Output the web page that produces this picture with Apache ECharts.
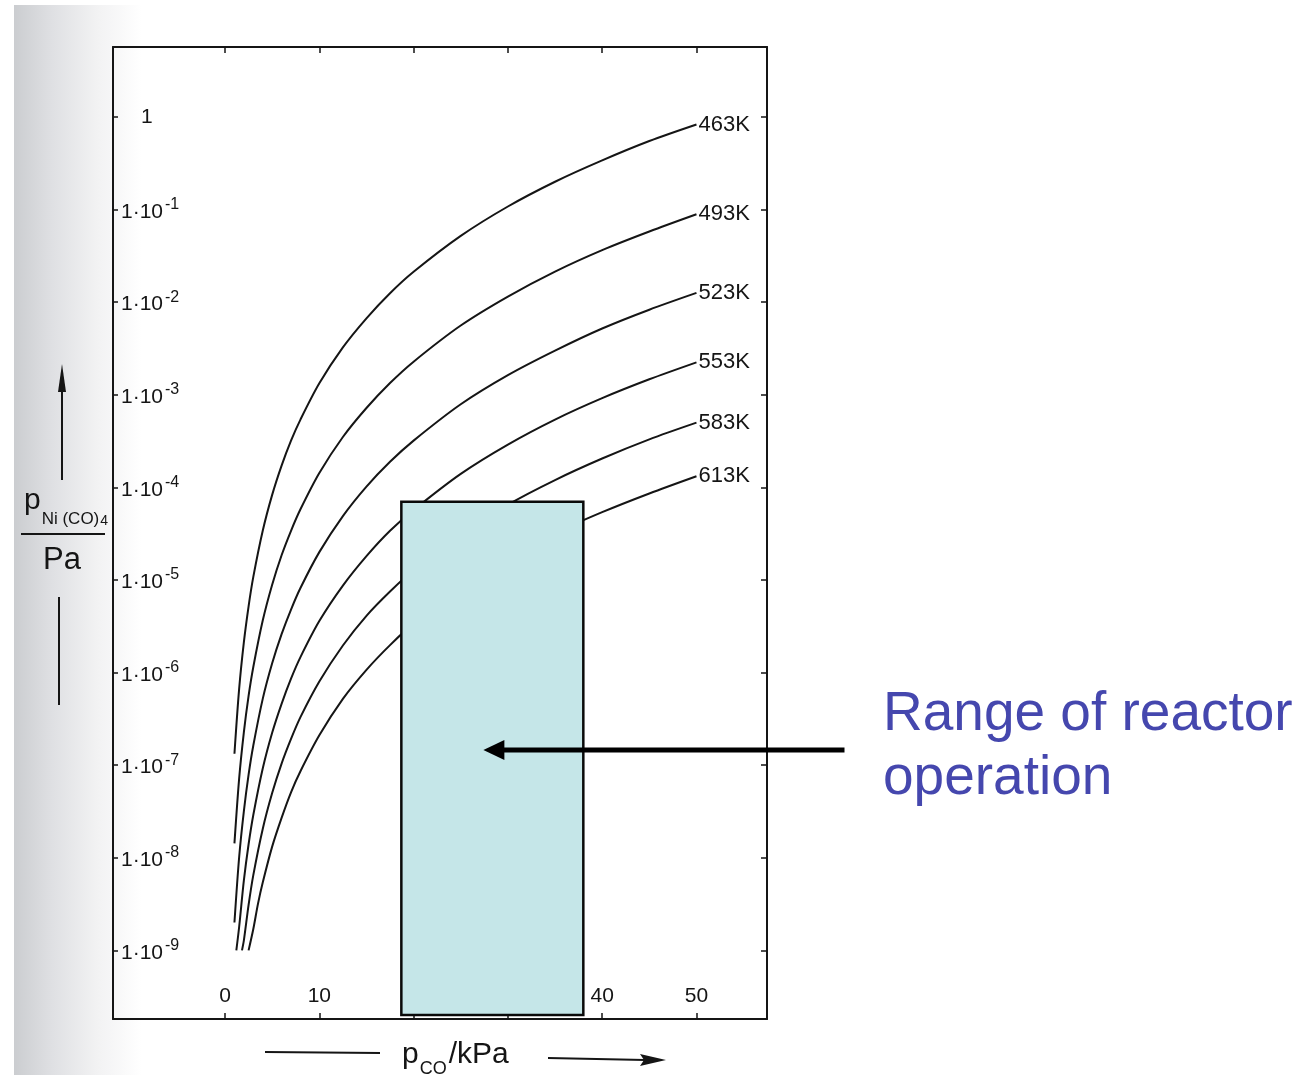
<!DOCTYPE html>
<html>
<head>
<meta charset="utf-8">
<title>Ni(CO)4 equilibrium pressure</title>
<script src="https://cdn.jsdelivr.net/npm/echarts@6/dist/echarts.min.js"></script>
<style>
  html, body { margin: 0; padding: 0; background: #ffffff; }
  #chart { width: 1311px; height: 1077px; }
</style>
</head>
<body>
<div id="chart"></div>
<script>
// ---- Data ---------------------------------------------------------------
// Isotherm labels
const temperatures = ['463K', '493K', '523K', '553K', '583K', '613K'];

// CO partial pressure (kPa) sampled along each isotherm
const pCO_463 = [1, 1.5, 2, 2.5, 3, 4, 5, 6, 7, 8, 10, 12.5, 15, 17.5, 20, 25, 30, 35, 40, 45, 50];
const pCO_493 = [1, 1.5, 2, 2.5, 3, 4, 5, 6, 7, 8, 10, 12.5, 15, 17.5, 20, 25, 30, 35, 40, 45, 50];
const pCO_523 = [1, 1.5, 2, 2.5, 3, 4, 5, 6, 7, 8, 10, 12.5, 15, 17.5, 20, 25, 30, 35, 40, 45, 50];
const pCO_553 = [1.2, 1.5, 2, 2.5, 3, 4, 5, 6, 7, 8, 10, 12.5, 15, 17.5, 20, 25, 30, 35, 40, 45, 50];
const pCO_583 = [1.8, 2, 2.5, 3, 4, 5, 6, 7, 8, 10, 12.5, 15, 17.5, 20, 25, 30, 35, 40, 45, 50];
const pCO_613 = [2.5, 3, 3.5, 4, 5, 6, 7, 8, 10, 12.5, 15, 17.5, 20, 25, 30, 35, 40, 45, 50];

// Equilibrium Ni(CO)4 partial pressure (Pa) at those points
const pNi_463 = [1.33e-7, 6.7e-7, 2.13e-6, 5.2e-6, 1.08e-5, 3.4e-5, 8.3e-5, 1.72e-4, 3.2e-4, 5.4e-4, 1.33e-3, 3.25e-3, 6.7e-3, 0.0125, 0.0213, 0.052, 0.108, 0.20, 0.34, 0.55, 0.83];
const pNi_493 = [1.43e-8, 7.2e-8, 2.28e-7, 5.6e-7, 1.15e-6, 3.65e-6, 8.9e-6, 1.85e-5, 3.4e-5, 5.8e-5, 1.43e-4, 3.5e-4, 7.2e-4, 1.34e-3, 2.28e-3, 5.6e-3, 0.0115, 0.0214, 0.0365, 0.058, 0.089];
const pNi_523 = [2.0e-9, 1.02e-8, 3.2e-8, 7.9e-8, 1.63e-7, 5.2e-7, 1.26e-6, 2.6e-6, 4.8e-6, 8.2e-6, 2.0e-5, 4.9e-5, 1.02e-4, 1.89e-4, 3.2e-4, 7.9e-4, 1.63e-3, 3.0e-3, 5.2e-3, 8.3e-3, 0.0126];
const pNi_553 = [1.0e-9, 1.8e-9, 5.7e-9, 1.4e-8, 2.9e-8, 9.2e-8, 2.24e-7, 4.6e-7, 8.6e-7, 1.47e-6, 3.6e-6, 8.7e-6, 1.81e-5, 3.4e-5, 5.7e-5, 1.4e-4, 2.9e-4, 5.4e-4, 9.2e-4, 1.47e-3, 2.24e-3];
const pNi_583 = [1.0e-9, 1.28e-9, 3.1e-9, 6.5e-9, 2.05e-8, 5.0e-8, 1.04e-7, 1.92e-7, 3.3e-7, 8.0e-7, 1.96e-6, 4.1e-6, 7.5e-6, 1.28e-5, 3.1e-5, 6.5e-5, 1.2e-4, 2.05e-4, 3.3e-4, 5.0e-4];
const pNi_613 = [1.0e-9, 1.7e-9, 3.2e-9, 5.4e-9, 1.32e-8, 2.7e-8, 5.1e-8, 8.6e-8, 2.1e-7, 5.2e-7, 1.07e-6, 1.98e-6, 3.4e-6, 8.2e-6, 1.7e-5, 3.2e-5, 5.4e-5, 8.6e-5, 1.32e-4];

// Axis ticks: CO pressure (kPa) and decades of Ni(CO)4 pressure (exponent of 10)
const pCOTicks = [0, 10, 20, 30, 40, 50];
const pNiTickExponents = [-9, -8, -7, -6, -5, -4, -3, -2, -1, 0];

// Axis extents: kPa, and log10(Pa)
const pCORange = [-11.88, 57.48];
const pNiLogRange = [-9.741, 0.756];

// Operating window of the reactor: CO pressure (kPa) and Ni(CO)4 pressure (Pa)
const reactorPCO = [18.7, 38.0];
const reactorPNi = [2.0e-10, 7.0e-5];

// Pointer from the caption to the operating window: [kPa, Pa]
const pointerFrom = [65.7, 1.46e-7];
const pointerTo = [27.4, 1.46e-7];

// ---- Chart --------------------------------------------------------------
const FONT = '"Liberation Sans", Arial, sans-serif';
const INK = '#151515';
const lg = v => Math.log10(v);

const curves = [
  [pCO_463, pNi_463], [pCO_493, pNi_493], [pCO_523, pNi_523],
  [pCO_553, pNi_553], [pCO_583, pNi_583], [pCO_613, pNi_613]
];

const lineSeries = curves.map(([xs, ys], i) => ({
  name: temperatures[i],
  type: 'line',
  data: xs.map((x, j) => [x, lg(ys[j])]),
  smooth: 0.3,
  symbol: 'none',
  silent: true,
  z: 2,
  lineStyle: { color: INK, width: 2 },
  endLabel: {
    show: true,
    formatter: '{a}',
    color: INK,
    fontFamily: FONT,
    fontSize: 22,
    distance: 2
  }
}));

const reactorSeries = {
  type: 'custom',
  z: 5,
  silent: true,
  clip: false,
  data: [[reactorPCO[0], reactorPCO[1], lg(reactorPNi[0]), lg(reactorPNi[1])]],
  encode: { x: [0, 1], y: [2, 3] },
  renderItem(params, api) {
    const a = api.coord([api.value(0), api.value(3)]);
    const b = api.coord([api.value(1), api.value(2)]);
    return {
      type: 'rect',
      shape: { x: a[0], y: a[1], width: b[0] - a[0], height: b[1] - a[1] },
      style: { fill: '#c5e6e8', stroke: '#0a0a0a', lineWidth: 2.5 }
    };
  }
};

const pointerSeries = {
  type: 'custom',
  z: 6,
  silent: true,
  clip: false,
  data: [[pointerFrom[0], lg(pointerFrom[1]), pointerTo[0], lg(pointerTo[1])]],
  encode: { x: [0, 2], y: [1, 3] },
  renderItem(params, api) {
    const t = api.coord([api.value(0), api.value(1)]);
    const h = api.coord([api.value(2), api.value(3)]);
    return {
      type: 'group',
      children: [
        { type: 'line', shape: { x1: t[0], y1: t[1], x2: h[0] + 16, y2: h[1] },
          style: { stroke: '#000', lineWidth: 5 } },
        { type: 'polygon', shape: { points: [[h[0], h[1]], [h[0] + 21, h[1] - 10], [h[0] + 21, h[1] + 10]] },
          style: { fill: '#000' } }
      ]
    };
  }
};

const frameLine = { show: true, onZero: false, lineStyle: { color: INK, width: 2 } };
const tickStyle = { color: INK, width: 1.5 };

const yLabelFormatter = v => {
  const n = Math.round(v);
  return n === 0 ? '{one|1}' : '{b|1·10}{s|' + n + '}';
};

const option = {
  backgroundColor: '#ffffff',
  animation: false,
  grid: { left: 113, top: 47, width: 654, height: 972, containLabel: false },
  xAxis: [
    {
      type: 'value', position: 'bottom',
      min: pCORange[0], max: pCORange[1],
      axisLine: frameLine,
      axisTick: { inside: true, length: 6, customValues: pCOTicks, lineStyle: tickStyle },
      axisLabel: { inside: true, margin: 12, customValues: pCOTicks, color: INK, fontFamily: FONT, fontSize: 21 },
      splitLine: { show: false }
    },
    {
      type: 'value', position: 'top',
      min: pCORange[0], max: pCORange[1],
      axisLine: frameLine,
      axisTick: { inside: true, length: 6, customValues: pCOTicks, lineStyle: tickStyle },
      axisLabel: { show: false },
      splitLine: { show: false }
    }
  ],
  yAxis: [
    {
      type: 'value', position: 'left',
      min: pNiLogRange[0], max: pNiLogRange[1],
      axisLine: frameLine,
      axisTick: { inside: true, length: 5, customValues: pNiTickExponents, lineStyle: tickStyle },
      axisLabel: {
        inside: true, margin: 8, customValues: pNiTickExponents,
        formatter: yLabelFormatter,
        rich: {
          b: { color: INK, fontFamily: FONT, fontSize: 21, verticalAlign: 'bottom' },
          s: { color: INK, fontFamily: FONT, fontSize: 16, verticalAlign: 'bottom', padding: [0, 0, 10, 2] },
          one: { color: INK, fontFamily: FONT, fontSize: 21, padding: [0, 0, 0, 20] }
        }
      },
      splitLine: { show: false }
    },
    {
      type: 'value', position: 'right',
      min: pNiLogRange[0], max: pNiLogRange[1],
      axisLine: frameLine,
      axisTick: { inside: true, length: 6, customValues: pNiTickExponents, lineStyle: tickStyle },
      axisLabel: { show: false },
      splitLine: { show: false }
    }
  ],
  graphic: [
    // faded page edge on the left
    {
      type: 'rect', z: -10, silent: true,
      shape: { x: 14, y: 5, width: 128, height: 1070 },
      style: {
        fill: new echarts.graphic.LinearGradient(0, 0, 1, 0, [
          { offset: 0, color: '#cbcdd0' },
          { offset: 0.3, color: '#dfe0e3' },
          { offset: 0.65, color: '#f2f2f3' },
          { offset: 1, color: '#ffffff' }
        ])
      }
    },
    // y-axis quantity: p_Ni(CO)4 / Pa with arrow
    {
      type: 'text', left: 24, top: 486, silent: true,
      style: {
        text: '{p|p}{s|Ni (CO)}{n|4}',
        rich: {
          p: { fontFamily: FONT, fontSize: 30, fill: INK, verticalAlign: 'bottom', padding: [0, 0, 12, 0] },
          s: { fontFamily: FONT, fontSize: 17, fill: INK, verticalAlign: 'bottom', padding: [0, 0, 0, 1] },
          n: { fontFamily: FONT, fontSize: 14, fill: INK, verticalAlign: 'bottom', padding: [0, 0, 0, 1] }
        }
      }
    },
    { type: 'line', silent: true, shape: { x1: 21, y1: 534, x2: 105, y2: 534 }, style: { stroke: INK, lineWidth: 2 } },
    {
      type: 'text', left: 43, top: 545, silent: true,
      style: { text: 'Pa', fontFamily: FONT, fontSize: 31, fill: INK }
    },
    { type: 'line', silent: true, shape: { x1: 62, y1: 480, x2: 62, y2: 385 }, style: { stroke: INK, lineWidth: 2 } },
    { type: 'polygon', silent: true, shape: { points: [[62, 364], [58, 392], [66, 392]] }, style: { fill: INK } },
    { type: 'line', silent: true, shape: { x1: 59, y1: 597, x2: 59, y2: 705 }, style: { stroke: INK, lineWidth: 2 } },
    // x-axis quantity: p_CO / kPa with arrow
    { type: 'line', silent: true, shape: { x1: 265, y1: 1052, x2: 380, y2: 1053 }, style: { stroke: INK, lineWidth: 2 } },
    {
      type: 'text', left: 402, top: 1040, silent: true,
      style: {
        text: '{p|p}{s|CO}{t|/kPa}',
        rich: {
          p: { fontFamily: FONT, fontSize: 30, fill: INK, verticalAlign: 'bottom', padding: [0, 0, 8, 0] },
          s: { fontFamily: FONT, fontSize: 18, fill: INK, verticalAlign: 'bottom', padding: [0, 2, 0, 1] },
          t: { fontFamily: FONT, fontSize: 30, fill: INK, verticalAlign: 'bottom', padding: [0, 0, 8, 0] }
        }
      }
    },
    { type: 'line', silent: true, shape: { x1: 548, y1: 1058, x2: 645, y2: 1060 }, style: { stroke: INK, lineWidth: 2 } },
    { type: 'polygon', silent: true, shape: { points: [[666, 1060], [640, 1054], [644, 1060], [640, 1066]] }, style: { fill: INK } },
    // caption for the operating window
    {
      type: 'text', left: 883, top: 683, silent: true,
      style: {
        text: 'Range of reactor\noperation',
        fontFamily: FONT, fontSize: 55, lineHeight: 64, fill: '#4547ae'
      }
    }
  ],
  series: [...lineSeries, reactorSeries, pointerSeries]
};

const chart = echarts.init(document.getElementById('chart'), null, { renderer: 'canvas' });
chart.setOption(option);
</script>
</body>
</html>
